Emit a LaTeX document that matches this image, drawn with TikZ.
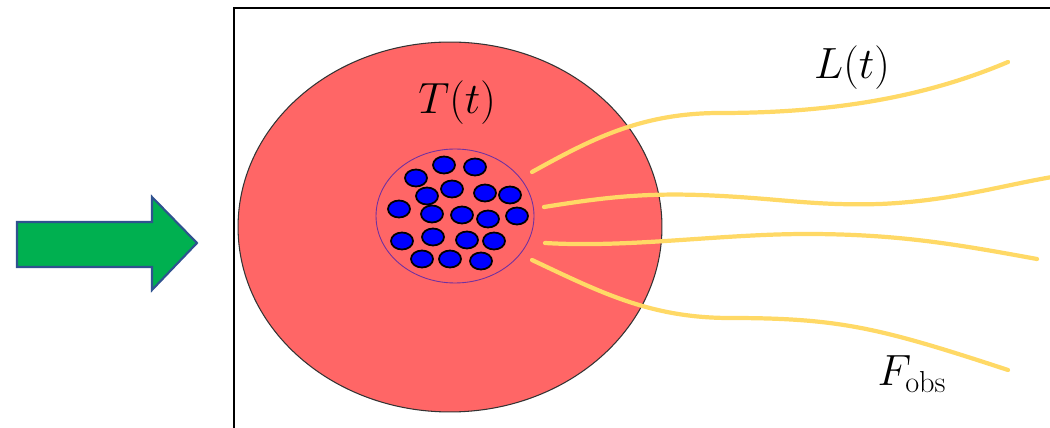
\documentclass[tikz,border=0pt]{standalone}
\usetikzlibrary{
  shapes.geometric
}
\definecolor{starred}{RGB}{255,102,102}
\definecolor{rayyellow}{RGB}{255,217,102}
\definecolor{arrowgreen}{RGB}{0,176,80}
\definecolor{arrowblue}{RGB}{47,82,143}
\definecolor{coreline}{RGB}{112,48,160}

\tikzset{
    star/.style={ellipse, draw=black!80, line width=0.6pt, fill=starred,
        minimum width=8.48cm, minimum height=7.4cm, inner sep=0pt},
    core/.style={ellipse, draw=coreline, line width=0.5pt,
        minimum width=3.16cm, minimum height=2.68cm, inner sep=0pt},
    dot/.style={ellipse, draw=black, line width=1pt, fill=blue,
        minimum width=0.44cm, minimum height=0.34cm, inner sep=0pt},
    ray/.style={rayyellow, line width=2.4pt, line cap=round},
    mathlbl/.style={font=\fontsize{24}{28}\selectfont, inner sep=0pt},
}

\begin{document}
\begin{tikzpicture}[x=0.02cm,y=-0.02cm]

\useasboundingbox (0,0) rectangle (1050,428);

% Incoming arrow
\draw[fill=arrowgreen, draw=arrowblue, line width=1.2pt, line join=miter]
    (17,222) -- (152,222) -- (152,197) -- (197,243) -- (152,290)
    -- (152,267) -- (17,267) -- cycle;

% Frame
\draw[line width=0.8pt] (234,440) |- (1060,8);

% Star and its core
\node[star] (st) at (450,227) {};
\node[core] (co) at (455,216) {};

% Blue particles
\foreach \x/\y [count=\i] in {444/165, 475/167, 416/178,
    427/196, 452/189, 485/193, 510/195,
    399/209, 432/214, 462/215, 488/219, 517/216,
    402/241, 433/237, 467/240, 494/241,
    422/259, 450/259, 481/261} {
    \node[dot] (d\i) at (\x,\y) {};
}

% Ends of the rays
\coordinate (s1) at (532,172);
\coordinate (s2) at (544,207);
\coordinate (s3) at (545,243);
\coordinate (s4) at (532,260);
\coordinate (e1) at (1008,62);
\coordinate (e2) at (1052,177);
\coordinate (e3) at (1037,259);
\coordinate (e4) at (1008,370);

% Rays
\draw[ray] (s1) .. controls (590,140) and (640,113) .. (720,113)
    .. controls (840,113) and (930,95) .. (e1);
\draw[ray] (s2) .. controls (600,198) and (640,193) .. (700,195)
    .. controls (780,198) and (810,206) .. (880,204)
    .. controls (950,201) and (1000,186) .. (e2);
\draw[ray] (s3) .. controls (630,248) and (720,234) .. (807,234)
    .. controls (900,234) and (960,245) .. (e3);
\draw[ray] (s4) .. controls (600,292) and (650,318) .. (730,318)
    .. controls (840,318) and (880,328) .. (e4);

% Labels
\node[mathlbl] (tt) at (457,103) {$T(t)$};
\node[mathlbl] (lt) at (852,68) {$L(t)$};
\node[mathlbl] (fo) at (912,374) {$F_{\mathrm{obs}}$};

\end{tikzpicture}
\end{document}
